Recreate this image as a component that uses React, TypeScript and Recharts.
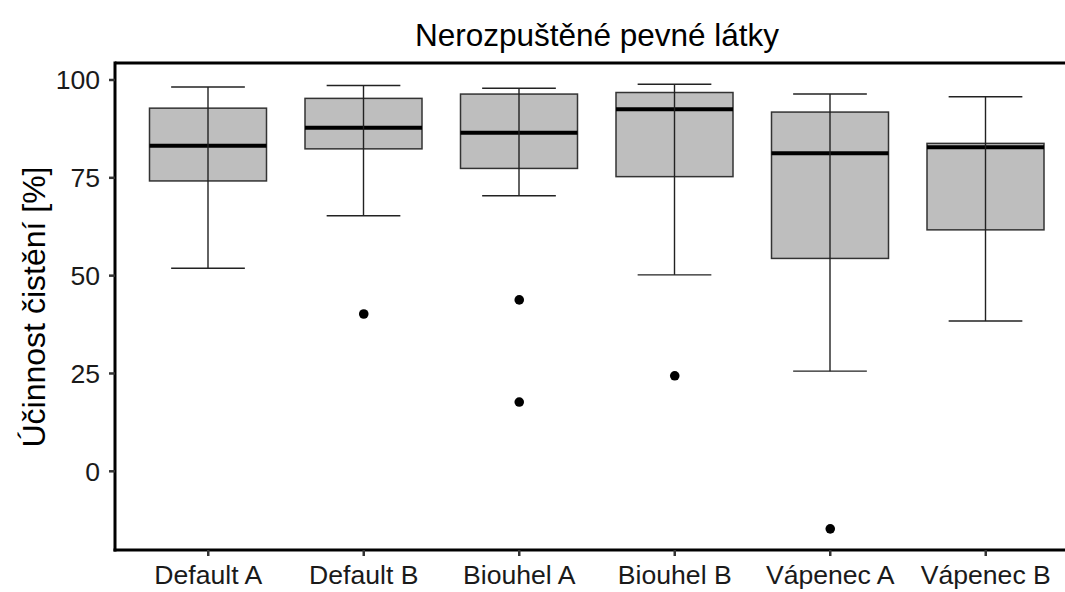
import { ComposedChart, Bar, Line, XAxis, YAxis, ReferenceLine } from 'recharts'

const categories = ['Default A', 'Default B', 'Biouhel A', 'Biouhel B', 'Vápenec A', 'Vápenec B']
const whiskerHigh = [98.2, 98.6, 97.9, 98.9, 96.4, 95.7]
const upperQuartile = [92.8, 95.3, 96.4, 96.8, 91.8, 83.8]
const medians = [83.2, 87.8, 86.5, 92.5, 81.3, 82.8]
const lowerQuartile = [74.2, 82.4, 77.4, 75.3, 54.4, 61.7]
const whiskerLow = [51.9, 65.3, 70.4, 50.2, 25.6, 38.4]
const outliersFirst = [null, 40.2, 43.8, 24.4, -14.7, null]
const outliersSecond = [null, null, 17.7, null, null, null]
const yTicks = [0, 25, 50, 75, 100]
const yDomain = [-20.11, 104.34]

const font = '"Liberation Sans", Arial, sans-serif'

const rows = categories.map((name, i) => ({
  name,
  lo: whiskerLow[i],
  hi: whiskerHigh[i],
  q1: lowerQuartile[i],
  med: medians[i],
  q3: upperQuartile[i],
  out1: outliersFirst[i],
  out2: outliersSecond[i],
}))

// range bar spans the whiskers; the rest is placed with the same px/unit
const BoxShape = (props: any) => {
  const { x, y, width, height, payload } = props
  if (!payload) return null
  let top = y
  let h = height
  if (h < 0) { top = y + h; h = -h }
  const k = h / (payload.hi - payload.lo)
  const py = (v: number) => top + (payload.hi - v) * k
  const cx = x + width / 2
  const cap = width * 0.315
  return (
    <g>
      <rect x={x} y={py(payload.q3)} width={width} height={py(payload.q1) - py(payload.q3)}
        fill="#bebebe" stroke="#333" strokeWidth={1.5} />
      <line x1={x} x2={x + width} y1={py(payload.med)} y2={py(payload.med)} stroke="#000" strokeWidth={4} />
      <line x1={cx} x2={cx} y1={py(payload.hi)} y2={py(payload.lo)} stroke="#222" strokeWidth={1.4} />
      <line x1={cx - cap} x2={cx + cap} y1={py(payload.hi)} y2={py(payload.hi)} stroke="#222" strokeWidth={1.4} />
      <line x1={cx - cap} x2={cx + cap} y1={py(payload.lo)} y2={py(payload.lo)} stroke="#222" strokeWidth={1.4} />
    </g>
  )
}

const tickStyle = { fontSize: 26.6, fill: '#1a1a1a', fontFamily: font }
const dotStyle = { r: 4.8, fill: '#000', stroke: 'none' }

export default function App() {
  return (
    <div style={{ position: 'absolute', left: 0, top: 0, width: 1065, height: 592, overflow: 'hidden', background: '#fff' }}>
      <div style={{
        position: 'absolute', left: 297, top: 20, width: 600, textAlign: 'center',
        fontFamily: font, fontSize: 31.5, lineHeight: '31.5px', color: '#000', whiteSpace: 'nowrap',
      }}>
        Nerozpuštěné pevné látky
      </div>
      <div style={{
        position: 'absolute', left: 34 - 200, top: 306.5 - 16, width: 400, textAlign: 'center',
        fontFamily: font, fontSize: 32, lineHeight: '32px', color: '#000', whiteSpace: 'nowrap',
        transform: 'rotate(-90deg)',
      }}>
        Účinnost čistění [%]
      </div>
      <ComposedChart width={1079} height={592} data={rows}
        margin={{ top: 63, right: 0, bottom: 2, left: 0 }}>
        <XAxis dataKey="name" type="category" height={40} padding={{ left: 15.5, right: 15.5 }}
          tick={tickStyle} tickSize={6} tickMargin={9} interval={0}
          axisLine={{ stroke: '#000', strokeWidth: 3, strokeLinecap: 'square' }}
          tickLine={{ stroke: '#333', strokeWidth: 2.5 }} />
        <YAxis type="number" width={115} domain={yDomain} ticks={yTicks} allowDataOverflow
          tick={tickStyle} tickSize={6} tickMargin={9}
          axisLine={{ stroke: '#000', strokeWidth: 3, strokeLinecap: 'square' }}
          tickLine={{ stroke: '#333', strokeWidth: 2.5 }} />
        <ReferenceLine y={yDomain[1]} stroke="#000" strokeWidth={3} />
        <Bar dataKey={(d: any) => [d.lo, d.hi]} barSize={117} shape={BoxShape} isAnimationActive={false} />
        <Line dataKey="out1" stroke="none" dot={dotStyle} activeDot={false} isAnimationActive={false} />
        <Line dataKey="out2" stroke="none" dot={dotStyle} activeDot={false} isAnimationActive={false} />
      </ComposedChart>
    </div>
  )
}
